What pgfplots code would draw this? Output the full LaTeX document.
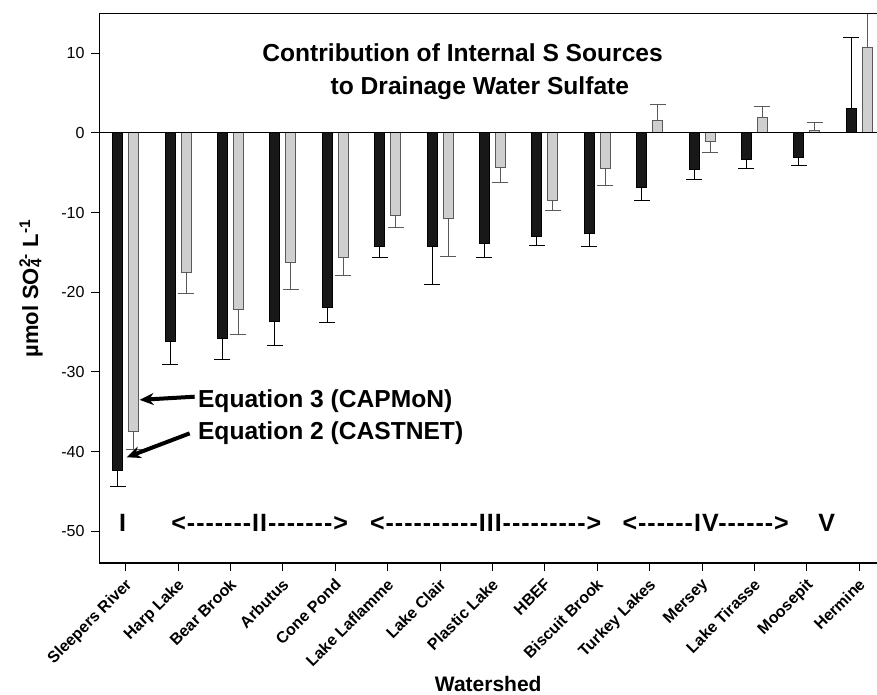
\documentclass[border=0pt]{standalone}
\usepackage{fontspec}
\setmainfont{Liberation Sans}[Ligatures=TeXOff]
\newfontfamily\grpfont{Liberation Sans}[Ligatures=TeXOff, LetterSpace=4]
\usepackage{pgfplots}
\pgfplotsset{compat=1.18}
\usetikzlibrary{arrows.meta}

% watershed index, CASTNET (black) value and error, CAPMoN (gray) value and error
% errors carry the sign of the bar: they point away from zero
\pgfplotstableread{
x  blk    blkerr  gry    gryerr
0  -42.4  -2.0    -37.5  -2.2
1  -26.2  -2.8    -17.5  -2.6
2  -25.8  -2.6    -22.1  -3.2
3  -23.7  -3.0    -16.2  -3.5
4  -21.9  -1.9    -15.6  -2.3
5  -14.2  -1.4    -10.4  -1.5
6  -14.2  -4.8    -10.7  -4.8
7  -13.9  -1.7    -4.3   -1.9
8  -13.0  -1.1    -8.5   -1.3
9  -12.6  -1.6    -4.5   -2.1
10 -6.8   -1.7     1.6    2.0
11 -4.6   -1.2    -1.1   -1.4
12 -3.3   -1.2     1.9    1.4
13 -3.1   -1.0     0.3    1.0
14  3.1    8.9    10.7    5.0
}\sulfate

\definecolor{barblack}{HTML}{181818}
\definecolor{bargray}{HTML}{CFCFCF}
\definecolor{edgegray}{HTML}{5A5A5A}

\begin{document}
\begin{tikzpicture}
\begin{axis}[
    name=ax,
    scale only axis, width=388.75pt, height=275pt,
    xmin=-0.5, xmax=14.34, ymin=-54, ymax=15,
    axis x line*=bottom, axis y line*=left,
    axis line style={line width=0.8pt, -},
    ybar, bar width=5pt,
    xtick={0,...,14},
    xticklabels={Sleepers River, Harp Lake, Bear Brook, Arbutus, Cone Pond,
        Lake Laflamme, Lake Clair, Plastic Lake, HBEF, Biscuit Brook,
        Turkey Lakes, Mersey, Lake Tirasse, Moosepit, Hermine},
    x tick label style={rotate=45, anchor=north east, inner sep=1.5pt,
        xshift=-1pt, font=\fontsize{8}{9}\selectfont\bfseries},
    ytick={-50,-40,...,10},
    y tick label style={font=\fontsize{8}{9}\selectfont},
    /pgf/number format/assume math mode=true,
    tick align=outside, major tick length=4pt,
    tick style={black, line width=0.5pt},
    ylabel={\bfseries µmol SO\rlap{\textsubscript{4}}\textsuperscript{2-} L\textsuperscript{-1}},
    ylabel style={at={(axis description cs:-0.079,0.5)}, anchor=base,
        font=\fontsize{11}{12}\selectfont},
    xlabel={\bfseries Watershed},
    xlabel style={at={(axis description cs:0.5,-0.234)}, anchor=base,
        font=\fontsize{10.5}{12}\selectfont},
]
\addplot[fill=barblack, draw=black, bar shift=-4pt,
    error bars/.cd, y dir=plus, y explicit,
    error bar style={black, line width=0.5pt},
    error mark options={rotate=90, black, mark size=4pt, line width=0.5pt}]
    table[x=x, y=blk, y error=blkerr] {\sulfate};
\addplot[fill=bargray, draw=edgegray, bar shift=4pt,
    error bars/.cd, y dir=plus, y explicit,
    error bar style={edgegray, line width=0.5pt},
    error mark options={rotate=90, edgegray, mark size=4pt, line width=0.5pt}]
    table[x=x, y=gry, y error=gryerr] {\sulfate};

\draw[line width=0.6pt] (axis cs:-0.5,0) -- (axis cs:14.34,0);
\draw[line width=0.8pt] (rel axis cs:0,1) -- (rel axis cs:1,1);

\node[font=\fontsize{12.3}{14}\selectfont\bfseries] at (axis cs:6.43,10) {Contribution of Internal S Sources};
\node[font=\fontsize{12.3}{14}\selectfont\bfseries] at (axis cs:6.76,5.6) {to Drainage Water Sulfate};

\node[font=\fontsize{12.3}{14}\selectfont\bfseries, anchor=base west, inner sep=0pt] at (axis cs:1.374,-34.5) {Equation 3 (CAPMoN)};
\node[font=\fontsize{12.3}{14}\selectfont\bfseries, anchor=base west, inner sep=0pt] at (axis cs:1.374,-38.5) {Equation 2 (CASTNET)};
\draw[line width=2pt, -{Stealth[length=7pt, width=6pt]}] (axis cs:1.317,-33.1) -- (axis cs:0.267,-33.5);
\draw[line width=2pt, -{Stealth[length=7pt, width=6pt]}] (axis cs:1.221,-37.7) -- (axis cs:0.019,-40.7);

\begin{scope}[every node/.style={font=\grpfont\fontsize{12.5}{14}\selectfont\bfseries, anchor=base, inner sep=0pt}]
\node at (axis cs:-0.057,-50) {I};
\node at (axis cs:2.557,-50) {<-------II------->};
\node at (axis cs:6.87,-50) {<----------III--------->};
\node at (axis cs:11.07,-50) {<------IV------>};
\node at (axis cs:13.38,-50) {V};
\end{scope}
\end{axis}
\pgfresetboundingbox
\path ([shift={(-49.75pt,-65.5pt)}]ax.south west) rectangle ([shift={(0pt,6.65pt)}]ax.north east);
\end{tikzpicture}
\end{document}
